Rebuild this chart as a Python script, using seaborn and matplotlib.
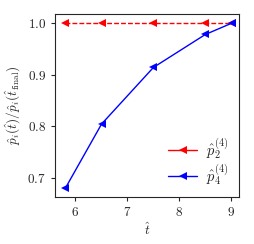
import matplotlib
matplotlib.use('Agg')
import matplotlib.pyplot as plt
import seaborn as sns

t_hat = [5.81, 6.51, 7.51, 8.51, 9.02]
p2_ratio = [1.0, 1.0, 1.0, 1.0, 1.0]
p4_ratio = [0.679, 0.804, 0.914, 0.978, 1.0]

sns.set_style('ticks')
plt.rcParams['font.family'] = 'serif'
plt.rcParams['font.serif'] = ['DejaVu Serif']
plt.rcParams['mathtext.fontset'] = 'cm'

fig = plt.figure(figsize=(2.54, 2.44), dpi=100)
ax = fig.add_axes([0.217, 0.193, 0.724, 0.750])

sns.lineplot(x=t_hat, y=p2_ratio, ax=ax, color='red', marker='<', markersize=6,
             linestyle=(0, (3.5, 1.5)), linewidth=1, markeredgewidth=0, label=r'$\hat{p}_2^{(4)}$')
sns.lineplot(x=t_hat, y=p4_ratio, ax=ax, color='blue', marker='<', markersize=6,
             linestyle='-', linewidth=1, markeredgewidth=0, label=r'$\hat{p}_4^{(4)}$')

ax.set_xlim(5.615, 9.16)
ax.set_ylim(0.6625, 1.018)
ax.set_xticks([6, 7, 8, 9])
ax.set_xticklabels(['$6$', '$7$', '$8$', '$9$'])
ax.set_yticks([0.7, 0.8, 0.9, 1.0])
ax.set_yticklabels(['$0.7$', '$0.8$', '$0.9$', '$1.0$'])
ax.tick_params(labelsize=9.5, length=3, width=0.8)
for s in ax.spines.values():
    s.set_visible(True)
    s.set_linewidth(0.8)
ax.set_xlabel(r'$\hat{t}$', fontsize=9.5, labelpad=2)
ax.set_ylabel(r'$\hat{p}_i(\hat{t})/\hat{p}_i(\hat{t}_{\mathrm{final}})$', fontsize=9.5, labelpad=3)
leg = ax.legend(loc='lower right', frameon=False, fontsize=10.5, handlelength=2.0,
                borderaxespad=0.3, labelspacing=0.05, markerscale=0.85, handletextpad=0.6)
for ln in leg.get_lines():
    ln.set_linestyle('-')

fig.savefig('out.png', dpi=100)
